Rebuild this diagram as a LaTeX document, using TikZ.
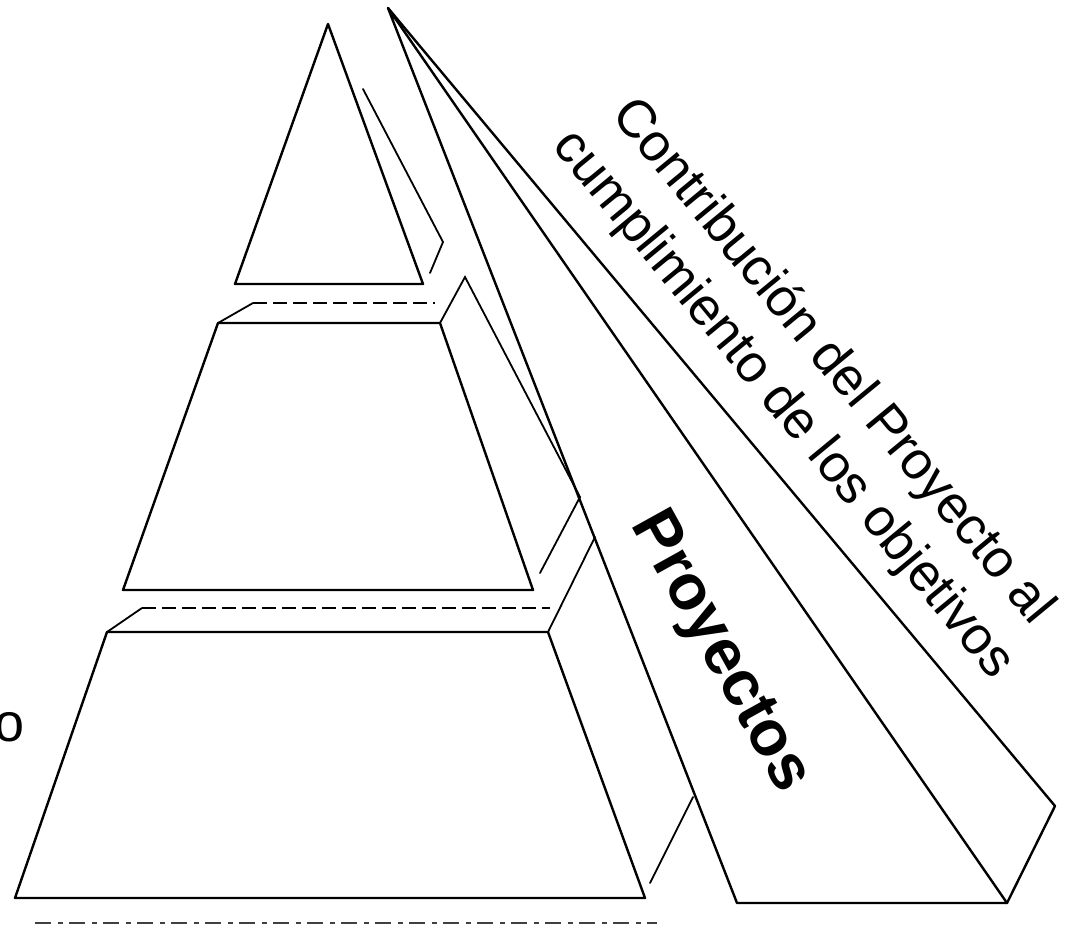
\documentclass[tikz,border=0pt]{standalone}
\usepackage{fontspec}
\setmainfont{Liberation Sans}
\begin{document}
\begin{tikzpicture}[x=1pt,y=-1pt,
  edge/.style={line width=2.4pt, line join=round, line cap=round},
  faint/.style={line width=1.8pt, line cap=round},
  back/.style={line width=1.6pt, dash pattern=on 14pt off 6pt},
  lbl/.style={inner sep=0pt, text=black, anchor=base},
  ttl/.style={lbl, rotate=-50.5, font=\fontsize{53}{64}\selectfont}]
\useasboundingbox (0,0) rectangle (1070,932);
% top triangle
\coordinate (tA) at (328,24);
\coordinate (tL) at (235,284);
\coordinate (tR) at (423,284);
\draw[edge] (tA) -- (tL) -- (tR) -- cycle;
\coordinate (tS1) at (363,89);
\coordinate (tS2) at (443,242);
\coordinate (tS3) at (430,273);
\draw[faint] (tS1) -- (tS2) -- (tS3);
% middle block
\coordinate (mTL) at (218,323);
\coordinate (mTR) at (440,323);
\coordinate (mBL) at (123,590);
\coordinate (mBR) at (533,590);
\coordinate (mK1) at (253,303);
\coordinate (mK2) at (435,303);
\coordinate (mP) at (465,277);
\coordinate (mQ) at (580,497);
\coordinate (mR) at (540,573);
\draw[edge] (mTL) -- (mTR) -- (mBR) -- (mBL) -- cycle;
\draw[faint] (mTL) -- (mK1);
\draw[back] (mK1) -- (mK2);
\draw[faint] (mTR) -- (mP) -- (mQ) -- (mR);
% bottom block
\coordinate (bTL) at (107,632);
\coordinate (bTR) at (548,632);
\coordinate (bBL) at (15,898);
\coordinate (bBR) at (645,898);
\coordinate (bK1) at (142,608);
\coordinate (bK2) at (550,608);
\coordinate (bP) at (595,537);
\coordinate (bQ) at (693,797);
\coordinate (bR) at (650,883);
\draw[edge] (bTL) -- (bTR) -- (bBR) -- (bBL) -- cycle;
\draw[faint] (bTL) -- (bK1);
\draw[back] (bK1) -- (bK2);
\draw[faint] (bTR) -- (bP);
\draw[faint] (bQ) -- (bR);
% wedge
\coordinate (wA) at (388,8);
\coordinate (wBL) at (737,903);
\coordinate (wBR) at (1007,903);
\coordinate (wS) at (1055,806);
\draw[edge] (wA) -- (wBL) -- (wBR) -- cycle;
\draw[edge] (wA) -- (wS) -- (wBR);
% faint base line
\coordinate (g1) at (35,923);
\coordinate (g2) at (657,923);
\draw[line width=1.4pt, dash pattern=on 16pt off 7pt on 5pt off 6pt, black!75] (g1) -- (g2);
% texts
\node[ttl] (title1) at (821,371) {Contribución del Proyecto al};
\node[ttl] (title2) at (772,414) {cumplimiento de los objetivos};
\node[lbl, rotate=-61, font=\bfseries\fontsize{64}{76}\selectfont] (proj) at (706,660) {Proyectos};
\node[inner sep=0pt, font=\fontsize{54}{60}\selectfont] (cut) at (10,727) {o};
\end{tikzpicture}
\end{document}
